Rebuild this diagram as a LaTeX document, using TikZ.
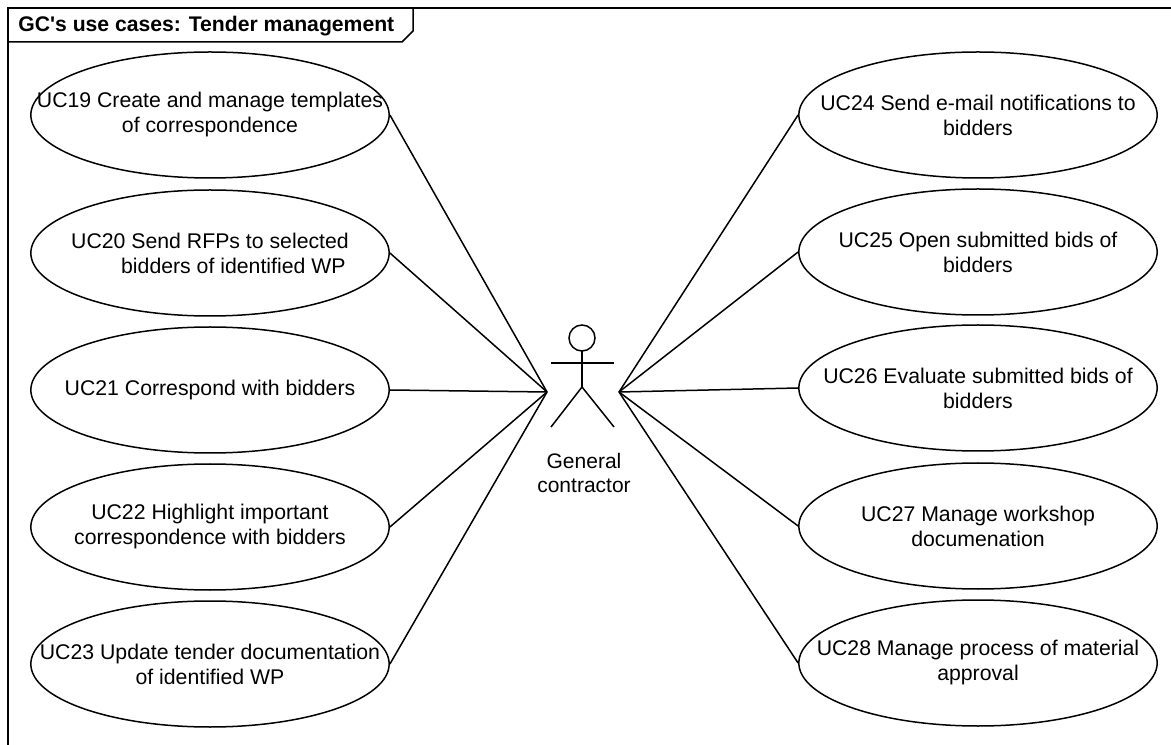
\documentclass[tikz,border=0pt]{standalone}
\usepackage{fontspec}
\setmainfont{Liberation Sans}
\usetikzlibrary{shapes.geometric}
\tikzset{
  uc/.style={draw=black,line width=0.9pt,ellipse,minimum width=215pt,minimum height=75.6pt,inner sep=0pt},
  uctext/.style={align=center,inner sep=0pt,font=\fontsize{12.75}{15}\selectfont},
  link/.style={draw=black,line width=0.9pt}
}
\begin{document}
\begin{tikzpicture}[x=0.6pt,y=-0.6pt]
\useasboundingbox (0,0) rectangle (1171,745);
\fill[white] (0,0) rectangle (1171,745);
\draw[link] (8,745) -- (8,8) -- (1171,8);
\draw[link] (8,42) -- (402,42) -- (413,31) -- (413,8);
\node[anchor=west,inner sep=0pt,font=\bfseries\fontsize{12.7}{16}\selectfont] (title) at (18,26) {GC\textquotesingle s use cases: Tender management};
\node[uc,label={[uctext]center:UC19 Create and manage templates\\of correspondence}] (u19) at (210,115) {};
\node[uc,label={[uctext]center:UC20 Send RFPs to selected\\\hspace*{2.2em}bidders of identified WP}] (u20) at (210,253) {};
\node[uc,label={[uctext]center:UC21 Correspond with bidders}] (u21) at (210,390) {};
\node[uc,label={[uctext]center:UC22 Highlight important\\correspondence with bidders}] (u22) at (210,527) {};
\node[uc,label={[uctext]center:UC23 Update tender documentation\\of identified WP}] (u23) at (210,664) {};
\node[uc,label={[uctext]center:UC24 Send e-mail notifications to\\bidders}] (u24) at (978,115) {};
\node[uc,label={[uctext]center:UC25 Open submitted bids of\\bidders}] (u25) at (978,252) {};
\node[uc,label={[uctext]center:UC26 Evaluate submitted bids of\\bidders}] (u26) at (978,388) {};
\node[uc,label={[uctext]center:UC27 Manage workshop\\documenation}] (u27) at (978,526) {};
\node[uc,label={[uctext]center:UC28 Manage process of material\\approval}] (u28) at (978,663) {};
\coordinate (al) at (547,392);
\coordinate (ar) at (619,392);
\coordinate (hip) at (582,387);
\draw[link] (582,338) circle (13);
\draw[link] (582,351) -- (hip);
\draw[link] (551,363) -- (614,363);
\draw[link] (hip) -- (551,427);
\draw[link] (hip) -- (614,427);
\node[align=center,inner sep=0pt,font=\fontsize{12.6}{14.8}\selectfont] (actor) at (584,473) {General\\contractor};
\draw[link] (u19.east) -- (al);
\draw[link] (u20.east) -- (al);
\draw[link] (u21.east) -- (al);
\draw[link] (u22.east) -- (al);
\draw[link] (u23.east) -- (al);
\draw[link] (u24.west) -- (ar);
\draw[link] (u25.west) -- (ar);
\draw[link] (u26.west) -- (ar);
\draw[link] (u27.west) -- (ar);
\draw[link] (u28.west) -- (ar);
\end{tikzpicture}
\end{document}
